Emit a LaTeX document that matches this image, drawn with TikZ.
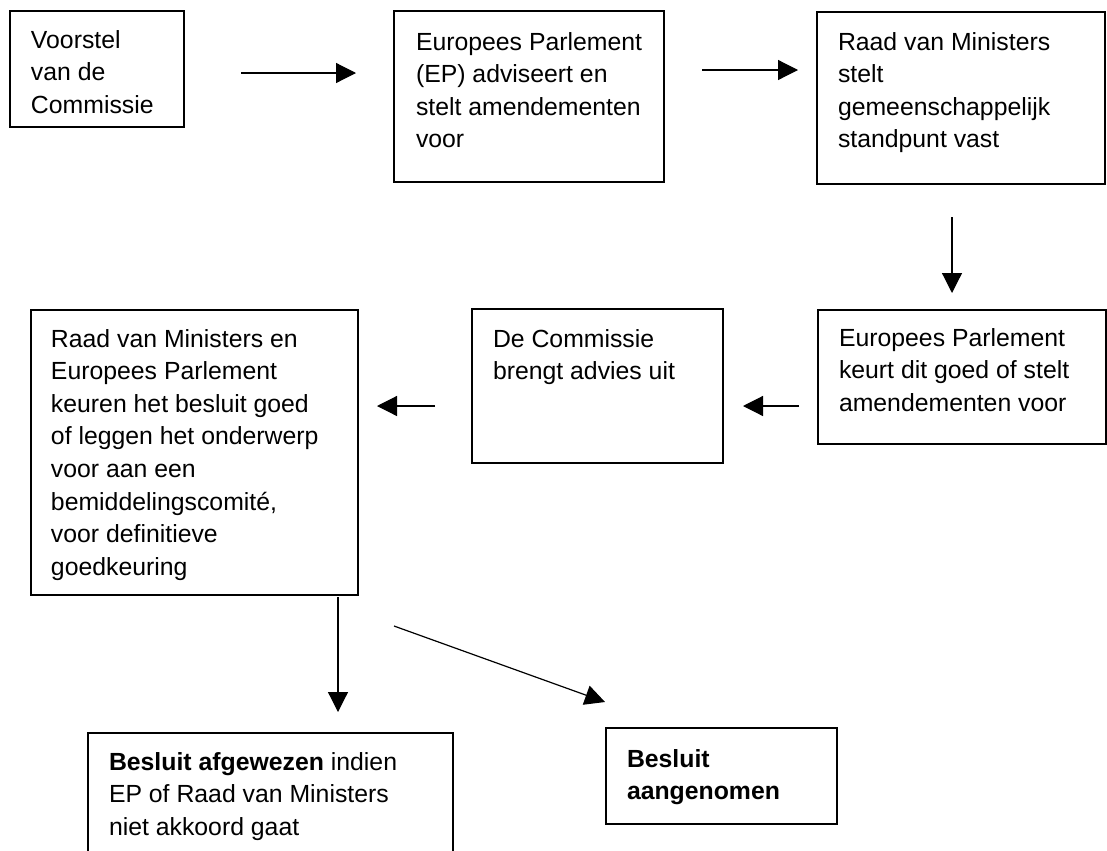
\documentclass[tikz,border=0pt]{standalone}
\usepackage{fontspec}
\setmainfont{Liberation Sans}
\usetikzlibrary{arrows.meta}
\newdimen\upx \upx=0.75pt
\newcommand\bxtext[5]{\parbox[t][#2\upx][t]{#1\upx}{\raggedright\leftskip=#3\upx\relax\baselineskip=32.6\upx\relax\rule{0pt}{#4\upx}#5\par}}
\tikzset{
  box/.style={draw, line width=1pt, inner sep=0pt, outer sep=0pt, anchor=north west,
    font=\fontsize{18.6pt}{24.45pt}\selectfont},
  arr/.style={line width=0.9pt, -{Triangle[length=15pt,width=15pt]}}
}
\begin{document}
\begin{tikzpicture}[x=0.75pt,y=-0.75pt]
\useasboundingbox (0,0) rectangle (1107,850);
\fill[white] (0,0) rectangle (1107,850);
\clip (0,0) rectangle (1107,850);

\node[box] (b1) at (10,11) {\bxtext{174}{116}{21}{37}{Voorstel\\van de\\Commissie}};
\node[box] (b2) at (394,11) {\bxtext{270}{171}{22}{39}{Europees Parlement\\(EP) adviseert en\\stelt amendementen\\voor}};
\node[box] (b3) at (817,12) {\bxtext{288}{172}{21}{38}{Raad van Ministers\\stelt\\gemeenschappelijk\\standpunt vast}};
\node[box] (b4) at (818,310) {\bxtext{288}{134}{21}{36}{Europees Parlement\\keurt dit goed of stelt\\amendementen voor}};
\node[box] (b5) at (472,309) {\bxtext{251}{154}{21}{38}{De Commissie\\brengt advies uit}};
\node[box] (b6) at (31,310) {\bxtext{327}{285}{20}{37}{Raad van Ministers en\\Europees Parlement\\keuren het besluit goed\\of leggen het onderwerp\\voor aan een\\bemiddelingscomité,\\voor definitieve\\goedkeuring}};
\node[box] (b7) at (88,733) {\bxtext{365}{140}{21}{37}{\textbf{Besluit afgewezen} indien\\EP of Raad van Ministers\\niet akkoord gaat}};
\node[box] (b8) at (606,728) {\bxtext{231}{96}{21}{39}{\textbf{Besluit}\\\textbf{aangenomen}}};

\path ([shift={(57,4)}]b1.east) coordinate (s1);
\draw[arr, shorten >=38\upx] (s1) -- (s1 -| b2.west);
\path ([shift={(38,-26.5)}]b2.east) coordinate (s2);
\draw[arr, shorten >=19\upx] (s2) -- (s2 -| b3.west);
\path ([shift={(-9,33)}]b3.south) coordinate (s3);
\draw[arr, shorten >=17\upx] (s3) -- (s3 |- b4.north);
\path ([shift={(-19,29)}]b4.west) coordinate (s4);
\draw[arr, shorten >=20\upx] (s4) -- (s4 -| b5.east);
\path ([shift={(-37,20)}]b5.west) coordinate (s5);
\draw[arr, shorten >=19\upx] (s5) -- (s5 -| b6.east);
\path ([shift={(143.5,2)}]b6.south) coordinate (s6);
\draw[arr, shorten >=21\upx] (s6) -- (s6 |- b7.north);
\path ([shift={(199.5,31)}]b6.south) coordinate (s7);
\draw[arr] (s7) -- ([shift={(-1,-26)}]b8.north west);
\end{tikzpicture}
\end{document}
